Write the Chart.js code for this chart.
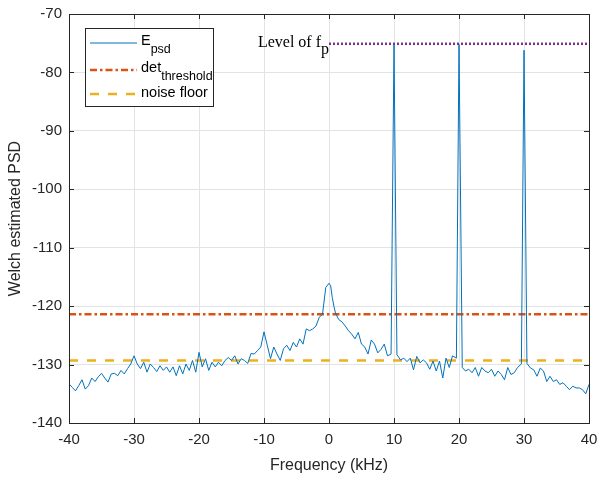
<!DOCTYPE html>
<html>
<head>
<meta charset="utf-8">
<script src="https://cdn.jsdelivr.net/npm/chart.js@4"></script>
<style>
  html, body { margin: 0; padding: 0; background: #fff; }
  #wrap { width: 597px; height: 479px; }
</style>
</head>
<body>
<div id="wrap"><canvas id="psdChart" width="597" height="479"></canvas></div>
<script>
// DADOS

const freq = [
  -40, -39.5, -39, -38.5, -38, -37.5, -37, -36.5, -36, -35.5,
  -35, -34.5, -34, -33.5, -33, -32.5, -32, -31.5, -31, -30.5,
  -30, -29.5, -29, -28.5, -28, -27.5, -27, -26.5, -26, -25.5,
  -25, -24.5, -24, -23.5, -23, -22.5, -22, -21.5, -21, -20.5,
  -20, -19.5, -19, -18.5, -18, -17.5, -17, -16.5, -16, -15.5,
  -15, -14.5, -14, -13.5, -13, -12.5, -12, -11.5, -11, -10.5,
  -10, -9.5, -9, -8.5, -8, -7.5, -7, -6.5, -6, -5.5,
  -5, -4.5, -4, -3.5, -3, -2.5, -2, -1.5, -1, -0.5,
  0, 0.25, 0.5, 0.75, 1, 1.5, 2, 2.5, 3, 3.5,
  4, 4.5, 5, 5.5, 6, 6.5, 7, 7.5, 8, 8.5,
  9, 9.55, 10, 10.45, 11, 11.5, 12, 12.5, 13,
  13.5, 14, 14.5, 15, 15.5, 16, 16.5, 17, 17.5, 18,
  18.5, 19, 19.6, 20, 20.5, 21, 21.5, 22, 22.5,
  23, 23.5, 24, 24.5, 25, 25.5, 26, 26.5, 27, 27.5,
  28, 28.5, 29, 29.6, 30, 30.45, 31, 31.5, 32,
  32.5, 33, 33.5, 34, 34.5, 35, 35.5, 36, 36.5, 37,
  37.5, 38, 38.5, 39, 39.5, 40
];

const psd = [
  -133.3, -133.9, -134.5, -133.6, -132.6, -134.2, -133.6, -132.3, -132.9, -132.1,
  -131.5, -132.3, -133.0, -131.6, -131.5, -131.9, -131.0, -131.6, -130.7, -129.9,
  -128.5, -129.9, -130.7, -129.6, -131.3, -129.9, -130.5, -131.2, -130.2, -131.0,
  -130.4, -131.3, -130.4, -131.9, -130.2, -131.6, -129.9, -131.0, -129.3, -131.3,
  -127.9, -130.4, -129.0, -131.0, -129.6, -130.4, -129.6, -130.2, -129.3, -128.8,
  -129.3, -128.5, -129.9, -129.0, -129.3, -129.8, -128.1, -128.2, -127.6, -127.0,
  -124.4, -126.7, -129.0, -127.0, -128.2, -129.3, -127.3, -126.7, -127.6, -126.2,
  -127.0, -125.6, -126.5, -123.9, -124.2, -123.9, -123.4, -121.9, -121.4, -116.8,
  -116.1, -116.5, -118.5, -120.0, -121.2, -122.3, -122.7, -123.4, -124.2, -124.8,
  -125.6, -124.5, -126.5, -127.0, -128.2, -125.8, -126.5, -128.0, -127.4, -126.5,
  -128.5, -128.2, -75.2, -128.3, -129.2, -128.9, -129.5, -128.9, -130.9,
  -128.6, -129.7, -129.2, -129.7, -130.8, -129.4, -131.1, -129.4, -132.3, -128.9,
  -130.5, -128.5, -128.9, -75.2, -130.5, -131.1, -130.8, -131.4, -130.5,
  -132.0, -130.5, -131.1, -131.4, -130.8, -132.0, -131.1, -131.7, -132.6, -130.5,
  -131.7, -131.4, -130.5, -129.9, -76.2, -129.8, -130.6, -130.9, -132.0,
  -130.6, -131.1, -132.9, -132.0, -132.9, -132.6, -133.4, -133.1, -133.7, -134.3,
  -133.7, -134.0, -134.0, -134.3, -135.0, -133.4
];

const thresholdLevel = -121.4;
const noiseFloorLevel = -129.3;
const fpLevel = -75.1;
const fpStart = 0;

const xTicks = [-40, -30, -20, -10, 0, 10, 20, 30, 40];
const yTicks = [-140, -130, -120, -110, -100, -90, -80, -70];

const COR_PSD = '#0072BD';
const COR_THR = '#D95319';
const COR_NF = '#EDB120';
const COR_FP = '#7E2F8E';
const EIXO = '#262626';
const FONTE = '"Liberation Sans", Arial, Helvetica, sans-serif';

// LEGENDA E CAIXA (estilo MATLAB)

const matlabBox = {
  id: 'matlabBox',
  afterDraw(chart) {
    const c = chart.ctx;
    const a = chart.chartArea;
    const xs = chart.scales.x;
    const ys = chart.scales.y;
    c.save();

    // ticks para dentro
    c.strokeStyle = EIXO;
    c.lineWidth = 1;
    c.beginPath();
    xTicks.forEach(t => {
      const px = Math.round(xs.getPixelForValue(t)) + 0.5;
      c.moveTo(px, a.bottom); c.lineTo(px, a.bottom - 5);
      c.moveTo(px, a.top); c.lineTo(px, a.top + 5);
    });
    yTicks.forEach(t => {
      const py = Math.round(ys.getPixelForValue(t)) + 0.5;
      c.moveTo(a.left, py); c.lineTo(a.left + 5, py);
      c.moveTo(a.right, py); c.lineTo(a.right - 5, py);
    });
    c.stroke();
    c.strokeRect(Math.round(a.left) + 0.5, Math.round(a.top) + 0.5,
      Math.round(a.right - a.left), Math.round(a.bottom - a.top));

    // texto "Level of f_p"
    const fpX = xs.getPixelForValue(fpStart);
    const fpY = ys.getPixelForValue(fpLevel);
    c.fillStyle = '#000';
    c.font = '16px "Liberation Serif", "Times New Roman", serif';
    c.textBaseline = 'alphabetic';
    c.textAlign = 'left';
    const subW = c.measureText('p').width;
    c.textAlign = 'right';
    c.fillText('Level of f', fpX - subW, fpY + 3);
    c.textAlign = 'left';
    c.fillText('p', fpX - subW, fpY + 10);

    // legenda
    const lx = 85.5, ly = 28.5, lw = 128, lh = 78;
    c.fillStyle = '#fff';
    c.fillRect(lx, ly, lw, lh);
    c.strokeStyle = EIXO;
    c.lineWidth = 1;
    c.strokeRect(lx, ly, lw, lh);

    const itens = [
      { cor: COR_PSD, w: 1, dash: [], main: 'E', sub: 'psd', y: 43 },
      { cor: COR_THR, w: 2.5, dash: [7, 3, 2.5, 3], main: 'det', sub: 'threshold', y: 70 },
      { cor: COR_NF, w: 2.5, dash: [9, 9], main: 'noise floor', sub: '', y: 94 }
    ];
    itens.forEach(it => {
      c.strokeStyle = it.cor;
      c.lineWidth = it.w;
      c.setLineDash(it.dash);
      c.beginPath();
      c.moveTo(90, it.y);
      c.lineTo(137, it.y);
      c.stroke();
      c.setLineDash([]);
      c.fillStyle = '#000';
      c.textAlign = 'left';
      c.textBaseline = 'middle';
      c.font = '14.5px ' + FONTE;
      const mainY = it.sub ? it.y - 2 : it.y - 1;
      c.fillText(it.main, 141, mainY);
      if (it.sub) {
        const mw = c.measureText(it.main).width;
        c.font = '12.5px ' + FONTE;
        c.fillText(it.sub, 141 + mw, it.y + 7);
      }
    });
    c.restore();
  }
};

// GRÁFICO

const ctx = document.getElementById('psdChart');

const psdChart = new Chart(ctx, {
  type: 'line',
  data: {
    datasets: [
      {
        label: 'E_psd',
        data: freq.map((f, i) => ({ x: f, y: psd[i] })),
        borderColor: COR_PSD,
        borderWidth: 1,
        pointRadius: 0,
        tension: 0,
        fill: false
      },
      {
        label: 'det_threshold',
        data: [{ x: -40, y: thresholdLevel }, { x: 40, y: thresholdLevel }],
        borderColor: COR_THR,
        borderWidth: 2.5,
        borderDash: [7, 3, 2.5, 3],
        pointRadius: 0,
        fill: false
      },
      {
        label: 'noise floor',
        data: [{ x: -40, y: noiseFloorLevel }, { x: 40, y: noiseFloorLevel }],
        borderColor: COR_NF,
        borderWidth: 2.5,
        borderDash: [9, 9],
        pointRadius: 0,
        fill: false
      },
      {
        label: 'Level of f_p',
        data: [{ x: fpStart, y: fpLevel }, { x: 40, y: fpLevel }],
        borderColor: COR_FP,
        borderWidth: 2.5,
        borderDash: [2, 2],
        pointRadius: 0,
        fill: false
      }
    ]
  },
  options: {
    responsive: false,
    animation: false,
    layout: { padding: { top: 14, right: 8, left: 0, bottom: 0 } },
    plugins: {
      legend: { display: false },
      tooltip: { enabled: false }
    },
    scales: {
      x: {
        type: 'linear',
        min: -40,
        max: 40,
        afterBuildTicks: s => { s.ticks = xTicks.map(v => ({ value: v })); },
        afterFit: s => { s.height = 56; s.paddingLeft = 0; s.paddingRight = 0; },
        ticks: { color: EIXO, font: { family: FONTE, size: 15 }, padding: 8, maxRotation: 0 },
        grid: { color: '#e3e3e3', drawTicks: false },
        border: { color: EIXO },
        title: { display: true, text: 'Frequency (kHz)', color: EIXO, font: { family: FONTE, size: 16 }, padding: { top: 3 } }
      },
      y: {
        min: -140,
        max: -70,
        afterBuildTicks: s => { s.ticks = yTicks.map(v => ({ value: v })); },
        afterFit: s => { s.width = 69; s.paddingTop = 0; s.paddingBottom = 0; },
        ticks: { color: EIXO, font: { family: FONTE, size: 15 }, padding: 7 },
        grid: { color: '#e3e3e3', drawTicks: false },
        border: { color: EIXO },
        title: { display: true, text: 'Welch estimated PSD', color: EIXO, font: { family: FONTE, size: 16 }, padding: { top: 6, bottom: 0 } }
      }
    }
  },
  plugins: [matlabBox]
});
</script>
</body>
</html>
